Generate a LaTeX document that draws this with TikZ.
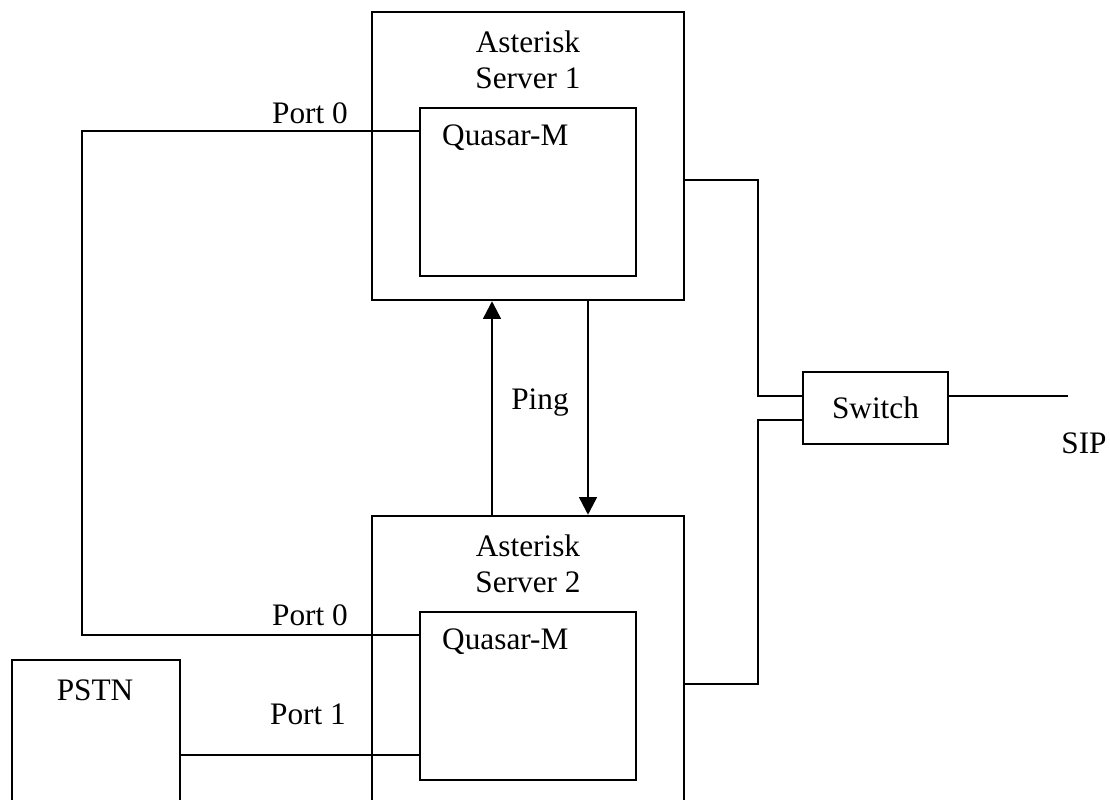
\documentclass[tikz,border=0pt]{standalone}
\usepackage{fontspec}
\setmainfont{Liberation Serif}
\usetikzlibrary{arrows.meta}
\begin{document}
\begin{tikzpicture}[line width=1.4pt,
  box/.style={draw, rectangle, inner sep=0pt},
  ping-arrow/.style={-{Triangle[length=10pt,width=10pt]}},
  every node/.style={font=\fontsize{17.8}{20.4}\selectfont}]
\clip (0,0) rectangle (22.2,16);
% Draw servers
\node[box, minimum width=6.24cm, minimum height=5.76cm] (server1) at (10.56,12.88) {};
\node[box, minimum width=6.24cm, minimum height=6.08cm] (server2) at (10.56,2.64) {};
\node[align=center] at (10.56,14.8) {Asterisk\\Server 1};
\node[align=center] at (10.56,4.72) {Asterisk\\Server 2};
% Quasar-M cards
\node[box, minimum width=4.32cm, minimum height=3.36cm] (quasar1) at (10.56,12.16) {};
\node[box, minimum width=4.32cm, minimum height=3.36cm] (quasar2) at (10.56,2.08) {};
\node[anchor=west, inner sep=0pt] at (8.82,13.24) {Quasar-M};
\node[anchor=west, inner sep=0pt] at (8.82,3.16) {Quasar-M};
% PSTN and switch
\node[box, minimum width=3.36cm, minimum height=3.2cm] (pstn) at (1.92,1.2) {};
\node at (1.9,2.2) {PSTN};
\node[box, minimum width=2.9cm, minimum height=1.44cm] (switch) at (17.51,7.84) {Switch};
\coordinate (sip-end) at (21.36,8.08);
% Port lines
\draw ([yshift=-.48cm]quasar1.north west) -- ++(-6.74,0) |- ([yshift=-.48cm]quasar2.north west);
\draw ([yshift=-1.92cm]pstn.north east) -- ([yshift=-1.92cm]pstn.north east -| quasar2.west);
\node at (6.2,13.74) {Port 0};
\node at (6.2,3.7) {Port 0};
\node at (6.16,1.72) {Port 1};
% Ping arrows
\draw[ping-arrow] ([xshift=-.72cm]server2.north) -- ([xshift=-.72cm]server1.south);
\draw[ping-arrow] ([xshift=1.2cm]server1.south) -- ([xshift=1.2cm]server2.north);
\node at (10.8,7.94) {Ping};
% Network to switch
\draw ([yshift=-.48cm]server1.east) -- ++(1.46,0) |- ([yshift=.24cm]switch.west);
\draw ([yshift=-.32cm]server2.east) -- ++(1.46,0) |- ([yshift=-.24cm]switch.west);
\draw ([yshift=.24cm]switch.east) -- (sip-end);
\node at (21.68,7.14) {SIP};
\end{tikzpicture}
\end{document}
